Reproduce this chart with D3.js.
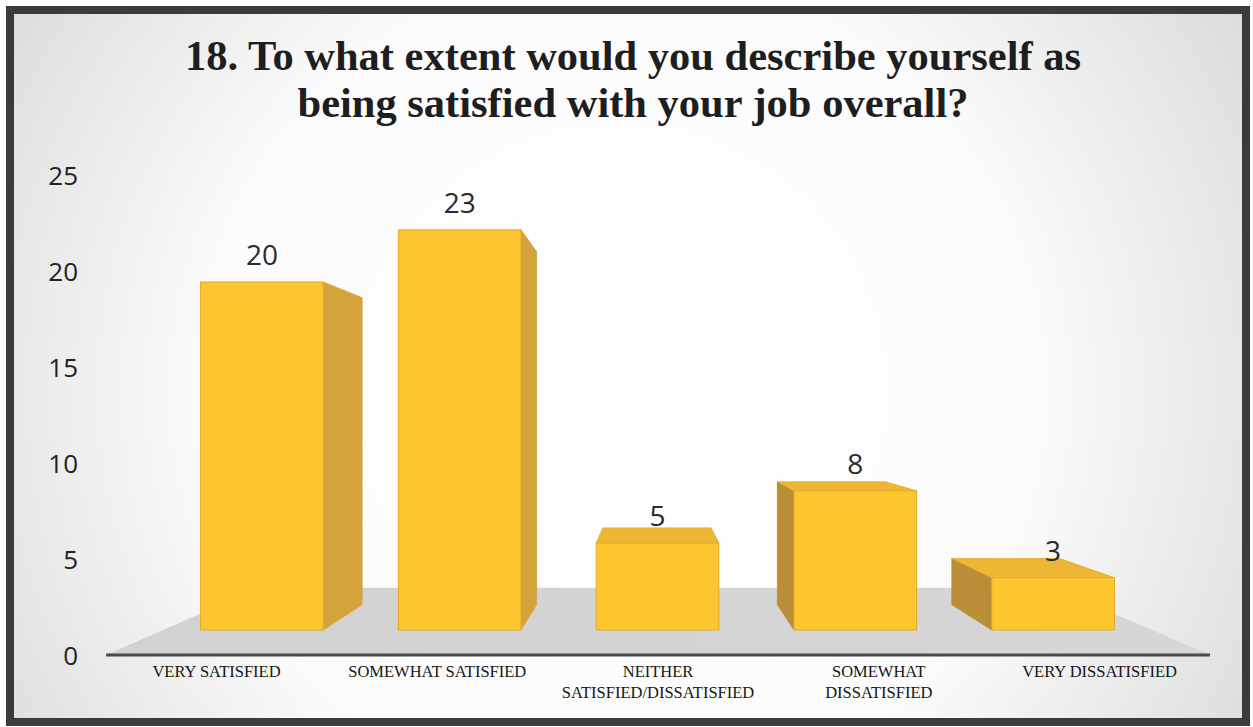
<!DOCTYPE html>
<html>
<head>
<meta charset="utf-8">
<script src="https://cdn.jsdelivr.net/npm/d3@7"></script>
<style>
  html, body { margin: 0; padding: 0; background: #fff; }
  svg { display: block; }
</style>
</head>
<body>
<svg id="chart" width="1253" height="727"></svg>
<script>
// ---- data ----
const titleLines = [
  "18. To what extent would you describe yourself as",
  "being satisfied with your job overall?"
];
const categories = [
  "VERY SATISFIED",
  "SOMEWHAT SATISFIED",
  "NEITHER SATISFIED/DISSATISFIED",
  "SOMEWHAT DISSATISFIED",
  "VERY DISSATISFIED"
];
const categoryLines = [
  ["VERY SATISFIED"],
  ["SOMEWHAT SATISFIED"],
  ["NEITHER", "SATISFIED/DISSATISFIED"],
  ["SOMEWHAT", "DISSATISFIED"],
  ["VERY DISSATISFIED"]
];
const responses = [20, 23, 5, 8, 3];
const yTicks = [0, 5, 10, 15, 20, 25];

// ---- layout ----
const svg = d3.select("#chart");

// bar front faces live in one plane; everything else is projected toward a vanishing point
const VP = { x: 653, y: 415 };
const BAR_DEPTH = 0.882;      // back face of each bar
const AXIS_PLANE = 1 / 0.896; // plane of the axis line and category labels
const FLOOR_BACK = 0.804;     // far edge of the floor
const proj = (p, k) => [VP.x + (p[0] - VP.x) * k, VP.y + (p[1] - VP.y) * k];

const x = d3.scaleBand()
  .domain(categories)
  .range([163, 1152])
  .paddingInner(0.38)
  .paddingOuter(0.19);
const yBar = d3.scaleLinear().domain([0, 25]).range([630, 195]);
const yAxis = d3.scaleLinear().domain([0, 25]).range([656, 176]);

// ---- background panel ----
const defs = svg.append("defs");
const bg = defs.append("radialGradient")
  .attr("id", "panelGrad")
  .attr("gradientUnits", "userSpaceOnUse")
  .attr("cx", 620).attr("cy", 390).attr("r", 760);
bg.append("stop").attr("offset", "0%").attr("stop-color", "#ffffff");
bg.append("stop").attr("offset", "55%").attr("stop-color", "#fbfbfb");
bg.append("stop").attr("offset", "100%").attr("stop-color", "#d9d9d9");

const floorGrad = defs.append("linearGradient")
  .attr("id", "floorGrad").attr("x1", 0).attr("y1", 0).attr("x2", 1).attr("y2", 0);
floorGrad.append("stop").attr("offset", "0%").attr("stop-color", "#d2d2d2");
floorGrad.append("stop").attr("offset", "100%").attr("stop-color", "#d6d6d6");

svg.append("rect")
  .attr("x", 10).attr("y", 10)
  .attr("width", 1236).attr("height", 712)
  .attr("fill", "url(#panelGrad)");

// ---- title ----
svg.append("g")
  .selectAll("text")
  .data(titleLines)
  .join("text")
  .attr("x", 633)
  .attr("y", (d, i) => 70 + i * 47)
  .attr("text-anchor", "middle")
  .attr("font-family", "'Liberation Serif', 'Times New Roman', serif")
  .attr("font-weight", "bold")
  .attr("font-size", 42.5)
  .attr("fill", "#1e1e1e")
  .text(d => d);

// ---- floor ----
const [r0, r1] = x.range();
const base = yBar(0);
const floorPts = [
  proj([r0, base], AXIS_PLANE),
  proj([r1, base], AXIS_PLANE),
  proj([r1, base], FLOOR_BACK),
  proj([r0, base], FLOOR_BACK)
];
svg.append("polygon")
  .attr("points", floorPts.map(p => p.join(",")).join(" "))
  .attr("fill", "url(#floorGrad)");

// ---- y axis (labels only) ----
const axisG = svg.append("g")
  .attr("transform", "translate(78,0)")
  .call(d3.axisLeft(yAxis).tickValues(yTicks).tickSize(0).tickPadding(0));
axisG.select(".domain").remove();
axisG.selectAll("text")
  .attr("font-family", "'Open Sans', 'Noto Sans', sans-serif")
  .attr("font-size", 26)
  .attr("fill", "#222222");

// ---- bars ----
const colors = {
  front: "#FCC631",
  right: "#D5A33B",
  left: "#B98E36",
  top: "#EDB634",
  edge: "#E3AA22"
};
const poly = pts => pts.map(p => p.join(",")).join(" ");

const barsG = svg.append("g");
categories.forEach((c, i) => {
  const v = responses[i];
  const x0 = x(c), x1 = x0 + x.bandwidth();
  const yT = yBar(v), yB = yBar(0);
  const FLt = [x0, yT], FRt = [x1, yT], FRb = [x1, yB], FLb = [x0, yB];
  const BLt = proj(FLt, BAR_DEPTH), BRt = proj(FRt, BAR_DEPTH);
  const BRb = proj(FRb, BAR_DEPTH), BLb = proj(FLb, BAR_DEPTH);
  const g = barsG.append("g");
  if (x1 < VP.x) {
    g.append("polygon").attr("points", poly([FRt, BRt, BRb, FRb]))
      .attr("fill", colors.right).attr("stroke", colors.right).attr("stroke-width", 0.8);
  }
  if (x0 > VP.x) {
    g.append("polygon").attr("points", poly([FLt, BLt, BLb, FLb]))
      .attr("fill", colors.left).attr("stroke", colors.left).attr("stroke-width", 0.8);
  }
  if (yT > VP.y) {
    g.append("polygon").attr("points", poly([FLt, FRt, BRt, BLt]))
      .attr("fill", colors.top).attr("stroke", colors.edge).attr("stroke-width", 0.8);
  }
  g.append("rect")
    .attr("x", x0).attr("y", yT)
    .attr("width", x.bandwidth()).attr("height", yB - yT)
    .attr("fill", colors.front)
    .attr("stroke", colors.edge).attr("stroke-width", 1);
});

// ---- axis line along the front edge of the floor ----
svg.append("line")
  .attr("x1", floorPts[0][0]).attr("y1", floorPts[0][1])
  .attr("x2", floorPts[1][0]).attr("y2", floorPts[1][1])
  .attr("stroke", "#4a4a4a").attr("stroke-width", 3);

// ---- category labels ----
const catG = svg.append("g");
categories.forEach((c, i) => {
  const cx = proj([x(c) + x.bandwidth() / 2, base], AXIS_PLANE)[0];
  const t = catG.append("text")
    .attr("text-anchor", "middle")
    .attr("font-family", "'Liberation Serif', 'Times New Roman', serif")
    .attr("font-size", 16.5)
    .attr("fill", "#161616");
  categoryLines[i].forEach((line, j) => {
    t.append("tspan").attr("x", cx).attr("y", 677 + j * 21).text(line);
  });
});

// ---- data labels ----
svg.append("g")
  .selectAll("text")
  .data(categories)
  .join("text")
  .attr("x", d => x(d) + x.bandwidth() / 2)
  .attr("y", (d, i) => yBar(responses[i]) - 17)
  .attr("text-anchor", "middle")
  .attr("font-family", "'Open Sans', 'Noto Sans', sans-serif")
  .attr("font-size", 28)
  .attr("fill", "#2a2a2a")
  .text((d, i) => responses[i]);

// ---- frame ----
svg.append("rect")
  .attr("x", 10).attr("y", 10)
  .attr("width", 1236).attr("height", 712)
  .attr("fill", "none")
  .attr("stroke", "#3b3b3b")
  .attr("stroke-width", 8);
</script>
</body>
</html>
